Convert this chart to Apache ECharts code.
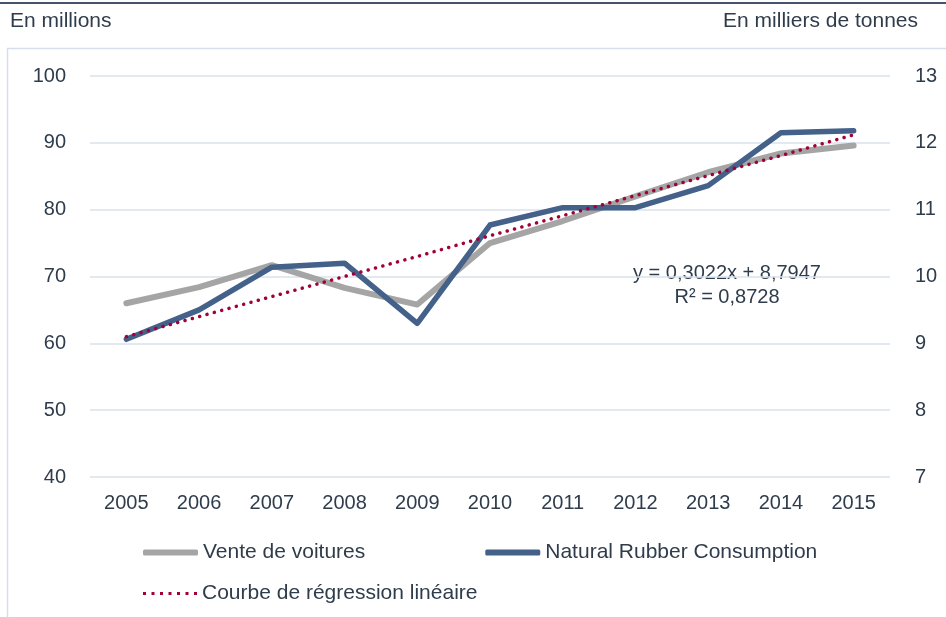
<!DOCTYPE html>
<html>
<head>
<meta charset="utf-8">
<script src="https://cdn.jsdelivr.net/npm/echarts@6/dist/echarts.min.js"></script>
<style>
  html, body { margin: 0; padding: 0; background: #fff; }
  #chart { width: 946px; height: 617px; }
</style>
</head>
<body>
<div id="chart"></div>
<script>
// data
const years = ['2005', '2006', '2007', '2008', '2009', '2010', '2011', '2012', '2013', '2014', '2015'];
const carSales = [66.0, 68.4, 71.7, 68.3, 65.8, 75.0, 78.3, 82.0, 85.6, 88.4, 89.6]; // millions
const rubber = [9.06, 9.50, 10.14, 10.20, 9.30, 10.77, 11.03, 11.03, 11.36, 12.15, 12.18]; // thousand tonnes
const trend = [9.10, 9.40, 9.70, 10.00, 10.30, 10.61, 10.91, 11.21, 11.51, 11.81, 12.12];
const trendLabel = ['y = 0,3022x + 8,7947', 'R² = 0,8728'];

const font = '"Liberation Sans", Arial, sans-serif';
const textColor = '#2f3c4c';

// dotted legend icon: a row of small squares
const dotsIcon = 'path://M0,0h3v3h-3z M8.5,0h3v3h-3z M17,0h3v3h-3z M25.5,0h3v3h-3z M34,0h3v3h-3z M42.5,0h3v3h-3z M51,0h3v3h-3z';

const chart = echarts.init(document.getElementById('chart'));

chart.setOption({
    animation: false,
    backgroundColor: '#fff',
    textStyle: { fontFamily: font },
    grid: { left: 90, right: 56, top: 76, bottom: 140 },
    graphic: [
        { type: 'rect', silent: true, shape: { x: 7.5, y: 48.5, width: 950, height: 600 },
          style: { fill: 'none', stroke: '#d6dfe9', lineWidth: 1.5 } },
        { type: 'rect', silent: true, shape: { x: 0, y: 2, width: 946, height: 2 },
          style: { fill: '#44546a' } },
        { type: 'text', left: 10, top: 11,
          style: { text: 'En millions', font: '21px ' + font, fill: textColor } },
        { type: 'text', right: 28, top: 11,
          style: { text: 'En milliers de tonnes', font: '21px ' + font, fill: textColor } },
        { type: 'text', x: 727, y: 261,
          style: { text: trendLabel.join('\n'), font: '20px ' + font, fill: textColor,
                   align: 'center', lineHeight: 24 } }
    ],
    legend: [
        {
            data: [
                { name: 'Vente de voitures', icon: 'roundRect' },
                { name: 'Natural Rubber Consumption', icon: 'roundRect' }
            ],
            left: 143, top: 542, padding: 0,
            itemWidth: 55, itemHeight: 6, itemGap: 120,
            textStyle: { fontSize: 21, color: textColor, fontFamily: font }
        },
        {
            data: [{ name: 'Courbe de régression linéaire', icon: dotsIcon }],
            left: 143, top: 583, padding: 0,
            itemWidth: 54, itemHeight: 3,
            textStyle: { fontSize: 21, color: textColor, fontFamily: font }
        }
    ],
    xAxis: {
        type: 'category',
        data: years,
        boundaryGap: true,
        axisLine: { show: false },
        axisTick: { show: false },
        axisLabel: { fontSize: 20, color: textColor, margin: 16 }
    },
    yAxis: [
        {
            type: 'value', min: 40, max: 100, interval: 10,
            axisLine: { show: false }, axisTick: { show: false },
            axisLabel: { fontSize: 20, color: textColor, margin: 24 },
            splitLine: { lineStyle: { color: '#d9e2ec', width: 1.5 } }
        },
        {
            type: 'value', min: 7, max: 13, interval: 1,
            axisLine: { show: false }, axisTick: { show: false },
            axisLabel: { fontSize: 20, color: textColor, margin: 25 },
            splitLine: { show: false }
        }
    ],
    series: [
        {
            name: 'Vente de voitures', type: 'line', yAxisIndex: 0, data: carSales,
            symbol: 'none', color: '#a5a5a5',
            lineStyle: { width: 6, color: '#a5a5a5', cap: 'round', join: 'round' }
        },
        {
            name: 'Natural Rubber Consumption', type: 'line', yAxisIndex: 1, data: rubber,
            symbol: 'none', color: '#44618a',
            lineStyle: { width: 5.5, color: '#44618a', cap: 'round', join: 'round' }
        },
        {
            name: 'Courbe de régression linéaire', type: 'line', yAxisIndex: 1, data: trend,
            symbol: 'none', color: '#a10038', z: 5,
            lineStyle: { width: 3.5, color: '#a10038', type: [0.1, 7.5], cap: 'round' }
        }
    ]
});
</script>
</body>
</html>
